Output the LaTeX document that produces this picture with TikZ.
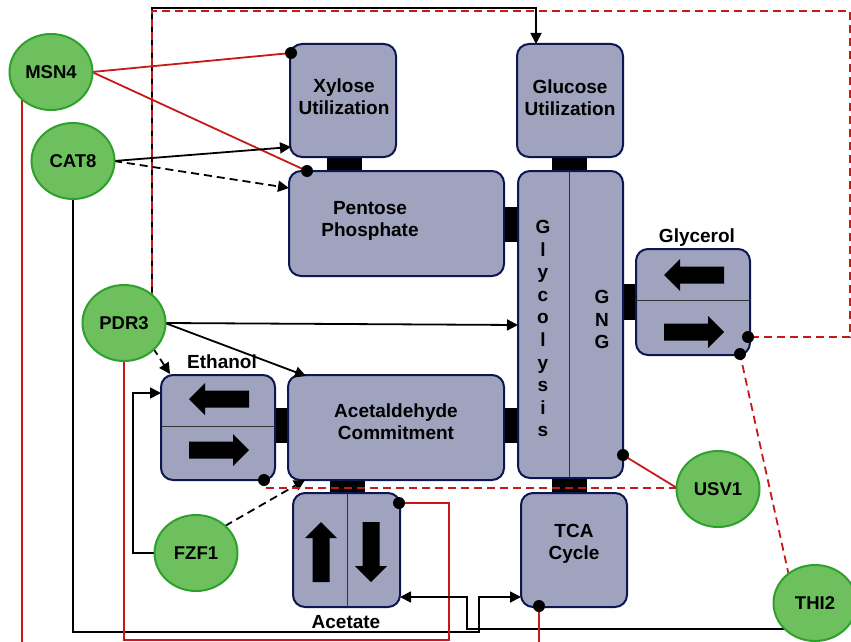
\documentclass[tikz,border=0pt]{standalone}
\usepackage{fontspec}
\setmainfont{Liberation Sans}
\usetikzlibrary{arrows.meta,shapes.geometric}
\definecolor{boxfill}{RGB}{159,163,190}
\definecolor{boxline}{RGB}{12,22,80}
\definecolor{tfill}{RGB}{110,192,94}
\definecolor{tline}{RGB}{45,160,45}
\definecolor{rline}{RGB}{200,25,25}
\tikzset{
  barrow/.pic={\fill[black] (-30,-8.5) -- (14,-8.5) -- (14,-16) -- (30,0) -- (14,16) -- (14,8.5) -- (-30,8.5) -- cycle;}
}
\begin{document}
\begin{tikzpicture}[x=1pt,y=-1pt,
 box/.style={draw=boxline, fill=boxfill, line width=2pt, rounded corners=12pt, rectangle, inner sep=0pt},
 tf/.style={ellipse, draw=tline, fill=tfill, line width=2pt, minimum width=83pt, minimum height=76pt, inner sep=0pt, font=\fontsize{18.5}{20}\selectfont\bfseries},
 lbl/.style={font=\fontsize{19}{22}\selectfont\bfseries, align=center, inner sep=0pt},
 let/.style={font=\fontsize{19}{22}\selectfont\bfseries, anchor=base, inner sep=0pt},
 act/.style={draw=black, line width=1.8pt, -{Triangle[length=11pt,width=11pt]}},
 actd/.style={act, dash pattern=on 8pt off 5pt},
 rep/.style={draw=rline, line width=1.8pt},
 repd/.style={rep, dash pattern=on 8pt off 5pt},
 dot/.style={circle, fill=black, inner sep=0pt, minimum size=12pt},
 divl/.style={draw=black!80, line width=0.9pt}
]
\useasboundingbox (0,0) rectangle (851,642);
\clip (0,0) rectangle (851,642);

% connector blocks
\fill (327,150) rectangle (362,178);
\fill (552,150) rectangle (587,178);
\fill (498,207) rectangle (523,242);
\fill (498,408) rectangle (523,443);
\fill (269,408) rectangle (294,443);
\fill (330,474) rectangle (365,499);
\fill (552,472) rectangle (587,499);
\fill (617,284) rectangle (642,320);

% boxes
\node[box, minimum width=106pt, minimum height=113pt] (xyl) at (343,100.5) {};
\node[box, minimum width=106pt, minimum height=113pt] (glu) at (570,100.5) {};
\node[box, minimum width=215pt, minimum height=105pt] (pen) at (396.5,223.5) {};
\node[box, minimum width=105pt, minimum height=307pt] (gly) at (570.5,324.5) {};
\node[box, minimum width=114pt, minimum height=106pt] (glc) at (693,302) {};
\node[box, minimum width=114pt, minimum height=105pt] (eth) at (218,427.5) {};
\node[box, minimum width=216pt, minimum height=105pt] (ald) at (396,427.5) {};
\node[box, minimum width=107pt, minimum height=114pt] (ace) at (346.5,550) {};
\node[box, minimum width=106pt, minimum height=114pt] (tca) at (574,550) {};

% dividers
\draw[divl] (569,171) -- (569,478);
\draw[divl] (636,300) -- (750,300);
\draw[divl] (161,426) -- (275,426);
\draw[divl] (347,493) -- (347,607);

% box texts
\node[lbl] (txyl) at (344,97) {Xylose\\Utilization};
\node[lbl] (tglu) at (570,98) {Glucose\\Utilization};
\node[lbl] (tpen) at (370,221) {Pentose\\Phosphate};
\node[lbl] (tald) at (396,422) {Acetaldehyde\\Commitment};
\node[lbl] (ttca) at (574,544) {TCA\\Cycle};
\node[lbl] (tglc) at (697,238) {Glycerol};
\node[lbl] (teth) at (222,362) {Ethanol};
\node[lbl] (tace) at (346,622) {Acetate};

% glycolysis letters
\foreach \ch [count=\i from 0] in {G,l,y,c,o,l,y,s,i,s} {
  \node[let] at (543,233.5+22.6*\i) {\ch};
}
\foreach \ch [count=\i from 0] in {G,N,G} {
  \node[let] at (602,303.5+22.5*\i) {\ch};
}

% block arrows
\pic[rotate=180] at (694,275) {barrow};
\pic at (694,332) {barrow};
\pic[rotate=180] at (219,399) {barrow};
\pic at (219,450) {barrow};
\pic[rotate=90] at (321,552) {barrow};
\pic[rotate=-90] at (371,552) {barrow};

% coordinates of TF centres / ends
\coordinate (cMSN4) at (51,72);
\coordinate (eMSN4) at (92,72);
\coordinate (cCAT8) at (73,161);
\coordinate (eCAT8) at (114,161);
\coordinate (cPDR3) at (124,323);
\coordinate (ePDR3) at (165,323);
\coordinate (cFZF1) at (196,553);
\coordinate (cUSV1) at (718,489);
\coordinate (wUSV1) at (677,488);
\coordinate (cTHI2) at (815,603);

% dot coordinates
\coordinate (dXyl) at (291,53);
\coordinate (dPen) at (307,171);
\coordinate (dEth) at (264,480);
\coordinate (dAce) at (399,503);
\coordinate (dGlyc) at (623,455);
\coordinate (dGlA) at (748,337);
\coordinate (dGlB) at (740,354);
\coordinate (dTCA) at (539,606);

% PDR3 long loops
\draw[act] (152,323) -- (152,8) -- (536,8) -- (536,44);
\draw[repd] (152,300) -- (152,11) -- (850,11) -- (850,337) -- (dGlA);

% MSN4
\draw[rep] (eMSN4) -- (dXyl);
\draw[rep] (eMSN4) -- (dPen);
\draw[rep] (cMSN4 -| 22,0) -- (22,642);

% CAT8
\draw[act] (eCAT8) -- (291,147);
\draw[actd] (eCAT8) -- (289,188);
\draw[act] (cCAT8) -- (73,632) -- (479,632) -- (479,597) -- (521,597);

% PDR3
\draw[act] (ePDR3) -- (518,325);
\draw[act] (ePDR3) -- (306,376);
\draw[actd] (153,348) -- (170,374);
\draw[rep] (cPDR3) -- (124,640) -- (449,640) -- (449,503) -- (dAce);

% FZF1
\draw[act] (cFZF1) -- (133,553) -- (133,393) -- (161,393);
\draw[actd] (225,526) -- (305,480);

% USV1
\draw[rep] (wUSV1) -- (dGlyc);
\draw[repd] (wUSV1) -- (264,488);

% THI2
\draw[repd] (789,576) -- (dGlB);
\draw[act] (cTHI2 |- 0,629) -- (467,629) -- (467,597) -- (400,597);

% TCA
\draw[rep] (dTCA) -- (539,642);

% dots
\foreach \d in {dXyl,dPen,dEth,dAce,dGlyc,dGlA,dGlB,dTCA} {
  \node[dot] at (\d) {};
}

% transcription factors
\node[tf] (MSN4) at (cMSN4) {MSN4};
\node[tf] (CAT8) at (cCAT8) {CAT8};
\node[tf] (PDR3) at (cPDR3) {PDR3};
\node[tf] (FZF1) at (cFZF1) {FZF1};
\node[tf] (USV1) at (cUSV1) {USV1};
\node[tf] (THI2) at (cTHI2) {THI2};
\end{tikzpicture}
\end{document}
